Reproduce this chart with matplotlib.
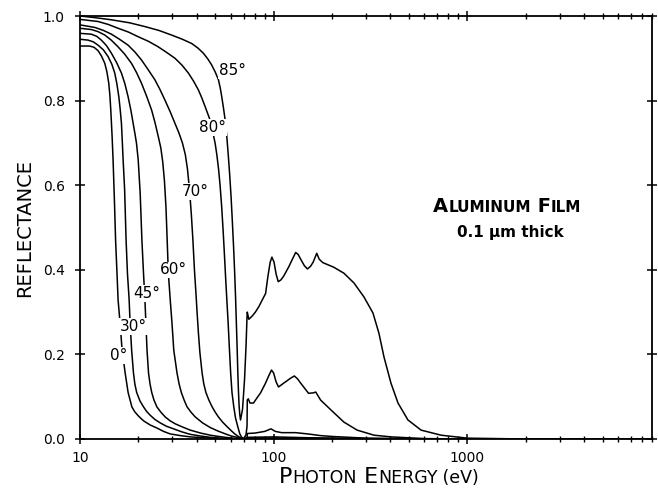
import matplotlib
matplotlib.use("Agg")
import matplotlib.pyplot as plt
from matplotlib.ticker import LogLocator, NullFormatter
from matplotlib.offsetbox import TextArea, HPacker, AnnotationBbox

plt.rcParams['font.family'] = ['DejaVu Sans']

# ---------------- data ----------------
angles = ["0°", "30°", "45°", "60°", "70°", "80°", "85°"]

energy_0 = [10, 11.22, 11.82, 12.4, 12.92, 13.43, 13.77, 14.08, 14.27, 14.42,
            14.65, 14.82, 15.09, 15.27, 15.5, 15.73, 16.11, 16.5, 17.11, 17.72,
            18.53, 19.2, 19.98, 20.7, 21.45, 23.06, 24.95, 27.0, 29.24, 33.0,
            37.1, 43.0, 50.0, 58.0, 67.45, 73.1, 100, 1000, 9000]
refl_0 = [.929, .929, .926, .918, .905, .888, .868, .841, .812, .778,
          .715, .660, .550, .470, .400, .329, .273, .210, .156, .110,
          .076, .064, .055, .048, .042, .033, .026, .018, .012, .008,
          .005, .003, .0015, .0007, 0, .001, .001, 0, 0]

energy_30 = [10, 11.0, 11.7, 12.4, 13.2, 13.97, 14.6, 15.12, 15.5, 15.87,
             16.12, 16.37, 16.55, 16.7, 17.0, 17.3, 17.58, 17.94, 18.15, 18.48,
             18.89, 19.2, 19.62, 20.4, 21.28, 22.1, 23.06, 24.4, 25.97, 28.0,
             30.44, 33.5, 37.1, 42.0, 47.1, 53.0, 60.0, 69.4, 73.1, 100,
             1000, 9000]
refl_30 = [.945, .943, .939, .931, .920, .904, .886, .865, .840, .809,
           .780, .746, .700, .660, .590, .470, .392, .329, .273, .210,
           .156, .130, .110, .090, .076, .065, .056, .046, .038, .030,
           .024, .017, .011, .007, .004, .002, .001, 0, .001, .001,
           0, 0]

energy_45 = [10, 11.44, 12.2, 12.89, 13.7, 14.53, 15.45, 16.37, 17.05, 17.72,
             18.3, 18.82, 19.25, 19.58, 19.98, 20.46, 20.88, 21.28, 21.64, 21.9,
             22.19, 22.59, 23.0, 23.47, 24.1, 24.95, 26.2, 27.57, 29.2, 31.0,
             34.0, 37.1, 42.0, 47.1, 52.0, 58.6, 64.0, 69.9, 73.1, 100,
             200, 1000, 9000]
refl_45 = [.959, .957, .952, .943, .930, .912, .890, .865, .840, .809,
           .778, .746, .720, .699, .660, .580, .470, .392, .329, .273,
           .210, .156, .130, .110, .092, .076, .063, .052, .043, .036,
           .028, .021, .014, .009, .006, .003, .001, 0, .002, .002,
           .001, 0, 0]

energy_60 = [10, 11.44, 12.4, 13.43, 14.5, 15.73, 17.0, 18.45, 19.6, 20.78,
             22.1, 23.42, 24.4, 25.37, 26.15, 26.75, 27.3, 27.8, 28.2, 28.6,
             29.24, 29.87, 30.5, 31.7, 32.5, 33.37, 34.5, 35.71, 37.5, 39.4,
             43.0, 47.1, 51.5, 56.4, 60.5, 64.6, 68.0, 71.1, 73.1, 100,
             150, 300, 1000, 9000]
refl_60 = [.971, .968, .963, .955, .943, .927, .910, .888, .866, .841,
           .810, .778, .748, .715, .688, .655, .610, .548, .470, .392,
           .329, .273, .210, .156, .130, .110, .092, .076, .063, .052,
           .038, .027, .019, .012, .007, .004, .0015, 0, .004, .005,
           .003, .001, 0, 0]

energy_70 = [10, 11.92, 13.2, 14.53, 16.0, 17.72, 19.2, 20.78, 22.5, 24.38,
             25.9, 27.47, 29.2, 30.95, 32.4, 33.8, 35.0, 35.9, 36.8, 37.6,
             38.3, 39.0, 39.7, 40.3, 40.9, 41.6, 42.72, 43.6, 44.7, 46.3,
             48.13, 50.0, 51.9, 54.5, 57.54, 60.3, 63.0, 65.2, 67.45, 71.1,
             72.9, 73.1, 80, 90, 97, 102, 110, 130, 150, 175,
             200, 300, 500, 1000, 9000]
refl_70 = [.979, .973, .966, .957, .945, .931, .915, .896, .873, .849,
           .826, .801, .774, .746, .724, .700, .672, .638, .588, .530,
           .470, .400, .345, .295, .250, .205, .156, .130, .110, .092,
           .076, .063, .052, .040, .029, .020, .012, .007, .003, 0,
           .001, .013, .014, .018, .024, .018, .015, .015, .012, .008,
           .006, .002, .0005, 0, 0]

energy_80 = [10, 12.4, 14.0, 15.73, 17.8, 19.98, 22.6, 25.37, 28.0, 30.95,
             33.6, 36.3, 38.6, 40.9, 42.6, 44.27, 45.6, 46.99, 48.4, 49.88,
             50.9, 51.9, 52.9, 53.9, 54.9, 55.8, 56.6, 57.4, 58.25, 59.16,
             60.0, 60.95, 62.27, 63.55, 65.31, 66.9, 68.6, 70.2, 72.0, 72.9,
             73.1, 74.0, 75.5, 78.7, 82.0, 85.6, 90.8, 94.5, 97.5, 100.0,
             103.0, 106.0, 112.7, 122.6, 128.0, 133.0, 138.0, 151.5, 160.0, 165.0,
             174.9, 197.4, 230.6, 270.0, 330.0, 403.7, 600.0, 1000, 9000]
refl_80 = [.992, .987, .980, .971, .962, .951, .940, .927, .914, .900,
           .884, .865, .846, .825, .806, .786, .770, .754, .728, .699,
           .672, .640, .600, .550, .490, .430, .375, .325, .273, .210,
           .156, .110, .076, .050, .029, .012, .003, .001, .010, .030,
           .092, .095, .085, .085, .097, .109, .132, .150, .163, .156,
           .135, .123, .132, .144, .149, .142, .132, .108, .109, .111,
           .092, .069, .040, .021, .009, .005, .001, 0, 0]

energy_85 = [10, 12.0, 14.53, 18.0, 21.64, 25.5, 29.7, 33.8, 37.74, 40.7,
             43.37, 45.8, 47.9, 50.0, 51.9, 53.0, 53.97, 55.1, 56.2, 57.3,
             58.3, 59.3, 60.3, 61.2, 62.1, 62.9, 63.6, 64.2, 64.8, 65.3,
             65.8, 66.3, 66.9, 67.45, 69.08, 70.75, 72.03, 72.9, 73.1, 74.5,
             77.6, 80.5, 83.9, 87.4, 90.9, 93.4, 96.0, 98.0, 100.5, 103.0,
             105.6, 109.0, 112.7, 119.7, 125.0, 130.0, 134.0, 138.0, 144.0, 149.5,
             155.0, 160.0, 167.0, 172.0, 179.5, 204.7, 230.6, 259.8, 292.6, 325.8,
             349.9, 371.5, 403.7, 439.0, 494.0, 577.6, 733.0, 1000, 2000, 9000]
refl_85 = [1.0, .996, .991, .984, .975, .966, .955, .945, .935, .924,
           .912, .898, .884, .867, .849, .830, .809, .782, .754, .715,
           .672, .625, .572, .515, .455, .395, .335, .275, .215, .160,
           .115, .080, .057, .045, .070, .140, .220, .290, .300, .283,
           .291, .300, .313, .329, .344, .384, .418, .430, .418, .390,
           .372, .376, .385, .407, .425, .441, .436, .425, .410, .402,
           .408, .418, .439, .425, .417, .406, .392, .369, .336, .298,
           .250, .194, .132, .085, .045, .021, .009, .002, 0, 0]

label_energy = [15.8, 18.9, 22.1, 30.5, 39.2, 48.3, 61.3]
label_refl = [0.197, 0.266, 0.344, 0.40, 0.585, 0.736, 0.870]

xtick_values = [10, 100, 1000]
xtick_labels = ["10", "100", "1000"]
ytick_values = [0.0, 0.2, 0.4, 0.6, 0.8, 1.0]
ytick_labels = ["0.0", "0.2", "0.4", "0.6", "0.8", "1.0"]

series = [(energy_0, refl_0), (energy_30, refl_30), (energy_45, refl_45),
          (energy_60, refl_60), (energy_70, refl_70), (energy_80, refl_80),
          (energy_85, refl_85)]

# ---------------- figure ----------------
fig = plt.figure(figsize=(6.58, 4.95), dpi=100)
ax = fig.add_axes([80 / 658, 1 - 439 / 495, 572 / 658, 423 / 495])

for e, r in series:
    ax.plot(e, r, color='black', lw=1.1, solid_joinstyle='round',
            solid_capstyle='round', zorder=2)

for txt, le, lr in zip(angles, label_energy, label_refl):
    ax.text(le, lr, txt, fontsize=11, ha='center', va='center', zorder=3,
            bbox=dict(facecolor='white', edgecolor='none', pad=0.6))

ax.set_xscale('log')
ax.set_xlim(10, 9000)
ax.set_ylim(0, 1.0)

ax.set_xticks(xtick_values)
ax.set_xticklabels(xtick_labels)
ax.xaxis.set_minor_locator(LogLocator(base=10, subs=[2, 3, 4, 5, 6, 7, 8, 9], numticks=20))
ax.xaxis.set_minor_formatter(NullFormatter())
ax.set_yticks(ytick_values)
ax.set_yticklabels(ytick_labels)

for s in ax.spines.values():
    s.set_linewidth(1.3)

ax.tick_params(axis='both', which='major', direction='inout', length=7, width=1.1,
               top=True, right=True, labelsize=10)
ax.tick_params(axis='y', which='major', pad=7.5)
ax.tick_params(axis='x', which='minor', direction='inout', length=4, width=1.0,
               top=True, bottom=True)
ax.tick_params(axis='x', which='major', pad=5.5)

# y label
ax.set_ylabel("REFLECTANCE", fontsize=14)
ax.yaxis.set_label_coords(-0.081, 0.5)

# x label in small caps
big, small = 16, 12.5
xl = HPacker(children=[
    TextArea("P", textprops=dict(fontsize=big)),
    TextArea("HOTON", textprops=dict(fontsize=small)),
    TextArea(" E", textprops=dict(fontsize=big)),
    TextArea("NERGY", textprops=dict(fontsize=small)),
    TextArea(" (eV)", textprops=dict(fontsize=small)),
], align="baseline", pad=0, sep=0)
fig.add_artist(AnnotationBbox(xl, (379 / 658, 1 - 477 / 495), xycoords='figure fraction',
                              frameon=False, box_alignment=(0.5, 0.5), pad=0))

# title block in small caps, bold
tb, ts = 14, 11
tl = HPacker(children=[
    TextArea("A", textprops=dict(fontsize=tb, fontweight='bold')),
    TextArea("LUMINUM", textprops=dict(fontsize=ts, fontweight='bold')),
    TextArea(" F", textprops=dict(fontsize=tb, fontweight='bold')),
    TextArea("ILM", textprops=dict(fontsize=ts, fontweight='bold')),
], align="baseline", pad=0, sep=0)
fig.add_artist(AnnotationBbox(tl, (507 / 658, 1 - 207 / 495), xycoords='figure fraction',
                              frameon=False, box_alignment=(0.5, 0.5), pad=0))
fig.text(510 / 658, 1 - 233 / 495, "0.1 μm thick", fontsize=11, fontweight='bold',
         ha='center', va='center')

fig.savefig("out.png", dpi=100)
